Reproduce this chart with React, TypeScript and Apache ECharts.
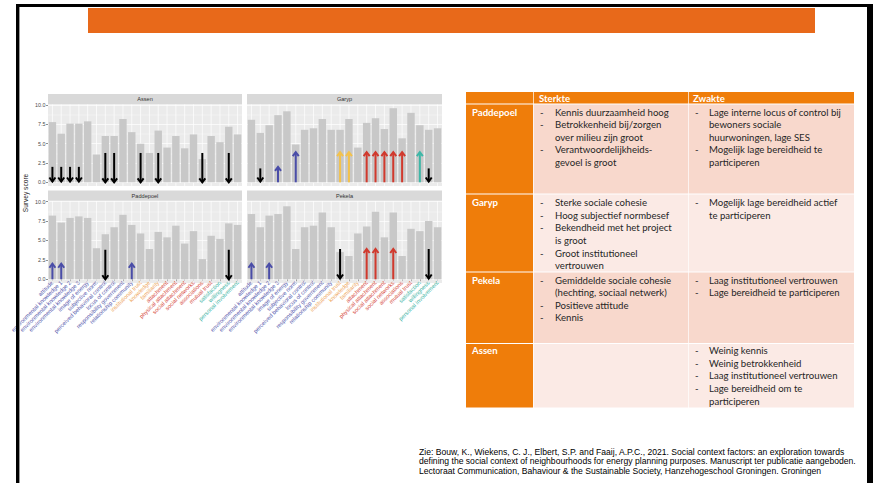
import React, { useEffect, useRef } from "react";
import * as echarts from "echarts";

// ---------- data ----------
const categories = [
  "attitude",
  "environmental knowledge 1",
  "environmental knowledge 2",
  "environmental knowledge 3",
  "image of energy",
  "subjective norm",
  "perceived behavioral control",
  "locus of control",
  "responsibility government",
  "relationship community",
  "institutional trust",
  "knowledge",
  "familiarity",
  "attachment",
  "physical attachment",
  "social attachment",
  "social networks",
  "associations",
  "mutual trust",
  "satisfaction",
  "willingness",
  "personal involvement",
];
const categoryGroup = [0, 0, 0, 0, 0, 0, 0, 0, 0, 0, 1, 1, 1, 2, 2, 2, 2, 2, 2, 3, 3, 3];
const groupColors = ["#5457AC", "#EEA65C", "#D6493C", "#3AB3A3"];

const assenValues = [7.8, 6.3, 7.6, 7.6, 7.9, 3.6, 6.0, 6.0, 8.2, 6.5, 5.0, 3.8, 6.7, 4.5, 6.0, 4.4, 6.2, 3.0, 6.0, 5.2, 7.2, 6.2];
const garypValues = [8.1, 6.4, 7.4, 8.7, 9.2, 4.9, 6.8, 7.0, 8.2, 6.8, 6.8, 8.2, 4.5, 7.7, 8.3, 6.9, 9.6, 5.7, 9.0, 7.4, 6.8, 7.0];
const paddepoelValues = [8.2, 7.3, 7.9, 8.1, 7.9, 4.0, 5.8, 6.7, 8.3, 7.0, 5.9, 3.9, 6.1, 5.4, 6.9, 4.6, 6.2, 2.6, 5.6, 5.2, 7.2, 7.0];
const pekelaValues = [8.4, 6.7, 8.2, 8.4, 9.4, 3.9, 6.7, 6.9, 8.6, 6.7, 3.5, 3.0, 5.9, 6.8, 8.7, 5.4, 8.6, 3.0, 6.5, 6.2, 7.5, 6.7];

const arrowColors = ["#000000", "#4A4DA8", "#F3C24C", "#D1392D", "#3DB7A7"];
// [category index, from, to, colour index]
const assenArrows = [
  [0, 2.0, 0.1, 0], [1, 2.0, 0.1, 0], [2, 2.0, 0.1, 0], [3, 2.0, 0.1, 0],
  [6, 3.8, 0.0, 0], [7, 3.8, 0.0, 0], [10, 3.8, 0.0, 0], [12, 3.8, 0.0, 0],
  [17, 3.8, 0.0, 0], [20, 3.8, 0.0, 0],
];
const garypArrows = [
  [1, 1.8, 0.1, 0], [3, 0, 2.0, 1], [5, 0, 3.9, 1], [10, 0, 3.9, 2], [11, 0, 3.9, 2],
  [13, 0, 3.9, 3], [14, 0, 3.9, 3], [15, 0, 3.9, 3], [16, 0, 3.9, 3], [17, 0, 3.9, 3],
  [19, 0, 3.9, 4], [20, 1.8, 0.1, 0],
];
const paddepoelArrows = [
  [0, 0, 2.0, 1], [1, 0, 2.0, 1], [6, 3.8, 0.0, 0], [9, 0, 2.0, 1], [20, 3.8, 0.0, 0],
];
const pekelaArrows = [
  [0, 0, 2.0, 1], [2, 0, 2.0, 1], [10, 3.9, 0.1, 0], [13, 0, 3.9, 3], [14, 0, 3.9, 3],
  [16, 0, 3.9, 3], [20, 3.9, 0.1, 0],
];

const yTitle = "Survey score";

const tableHeader = ["Sterkte", "Zwakte"];
const tableRowNames = ["Paddepoel", "Garyp", "Pekela", "Assen"];
const sterkte = [
  [["Kennis duurzaamheid hoog"], ["Betrokkenheid bij/zorgen", "over milieu zijn groot"], ["Verantwoordelijkheids-", "gevoel is groot"]],
  [["Sterke sociale cohesie"], ["Hoog subjectief normbesef"], ["Bekendheid met het project", "is groot"], ["Groot institutioneel", "vertrouwen"]],
  [["Gemiddelde sociale cohesie", "(hechting, sociaal netwerk)"], ["Positieve attitude"], ["Kennis"]],
  [],
];
const zwakte = [
  [["Lage interne locus of control bij", "bewoners sociale", "huurwoningen, lage SES"], ["Mogelijk lage bereidheid te", "participeren"]],
  [["Mogelijk lage bereidheid actief", "te participeren"]],
  [["Laag institutioneel vertrouwen"], ["Lage bereidheid te participeren"]],
  [["Weinig kennis"], ["Weinig betrokkenheid"], ["Laag institutioneel vertrouwen"], ["Lage bereidheid om te", "participeren"]],
];
const footnote = [
  "Zie: Bouw, K., Wiekens, C. J., Elbert, S.P. and Faaij, A.P.C., 2021. Social context factors: an exploration towards",
  "defining the social context of neighbourhoods for energy planning purposes. Manuscript ter publicatie aangeboden.",
  "Lectoraat Communication, Bahaviour & the Sustainable Society, Hanzehogeschool Groningen. Groningen",
];

// ---------- layout ----------
const Y_LO = -0.48;
const Y_HI = 10.08;
const panels = [
  { name: "Assen", values: assenValues, arrows: assenArrows, left: 48, width: 194, pTop: 104.5, pBot: 186, sTop: 94, bottom: false, yl: true },
  { name: "Garyp", values: garypValues, arrows: garypArrows, left: 247, width: 195, pTop: 104.5, pBot: 186, sTop: 94, bottom: false, yl: false },
  { name: "Paddepoel", values: paddepoelValues, arrows: paddepoelArrows, left: 48, width: 194, pTop: 201, pBot: 283, sTop: 190.5, bottom: true, yl: true },
  { name: "Pekela", values: pekelaValues, arrows: pekelaArrows, left: 247, width: 195, pTop: 201, pBot: 283, sTop: 190.5, bottom: true, yl: false },
];

const ORANGE = "#EF7D0A";
const PINK = "#F8D8CC";
const LIGHTPINK = "#FBEAE5";
const tableX = [466, 533, 688, 854];
const rowTops = [104.5, 194.5, 272.5, 344];
const rowBots = [193.5, 271.5, 343, 407.5];
const firstLineY = [112, 202.5, 280, 350.5];
const LINE = 12.65;

function buildOption() {
  const grid: any[] = [];
  const xAxis: any[] = [];
  const yAxis: any[] = [];
  const series: any[] = [];
  const graphic: any[] = [];

  // frame and title bar
  graphic.push({ type: "rect", z: 5, shape: { x: 16, y: 4, width: 857, height: 3 }, style: { fill: "#000" } });
  graphic.push({ type: "rect", z: 5, shape: { x: 16, y: 4, width: 3, height: 479 }, style: { fill: "#000" } });
  graphic.push({ type: "rect", z: 5, shape: { x: 19, y: 7, width: 1, height: 476 }, style: { fill: "#9a9a9a" } });
  graphic.push({ type: "rect", z: 5, shape: { x: 867, y: 4, width: 6, height: 479 }, style: { fill: "#000" } });
  graphic.push({ type: "rect", z: 5, shape: { x: 88, y: 8, width: 727, height: 25 }, style: { fill: "#E8691A" } });

  panels.forEach((p, i) => {
    const unit = (p.pBot - p.pTop) / (Y_HI - Y_LO);
    const y0 = p.pBot + Y_LO * unit;
    const top = y0 - 10 * unit;
    grid.push({ left: p.left, top: top, width: p.width, height: 10 * unit, containLabel: false });
    xAxis.push({
      type: "category",
      gridIndex: i,
      data: categories,
      boundaryGap: true,
      axisLine: { show: false },
      axisTick: { show: p.bottom, alignWithLabel: true, length: 2, lineStyle: { color: "#444", width: 0.6 } },
      axisLabel: {
        show: p.bottom,
        interval: 0,
        rotate: 45,
        fontSize: 5.7,
        margin: 2.5,
        fontFamily: "Liberation Sans",
        color: (_v: any, idx: number) => groupColors[categoryGroup[idx]],
      },
      splitLine: { show: false },
    });
    yAxis.push({
      type: "value",
      gridIndex: i,
      min: 0,
      max: 10,
      interval: 2.5,
      axisLine: { show: false },
      axisTick: { show: p.yl, length: 2, lineStyle: { color: "#444", width: 0.6 } },
      axisLabel: {
        show: p.yl,
        fontSize: 5.4,
        margin: 2.5,
        color: "#4D4D4D",
        fontFamily: "Liberation Sans",
        formatter: (v: number) => v.toFixed(1),
      },
      splitLine: { show: true, lineStyle: { color: "#FFFFFF", width: 0.7 } },
      minorTick: { show: true, splitNumber: 2, length: 0, lineStyle: { width: 0 } },
      minorSplitLine: { show: true, lineStyle: { color: "#FFFFFF", width: 0.35 } },
    });
    // vertical grid lines at category centres, over full panel height
    series.push({
      type: "custom",
      xAxisIndex: i,
      yAxisIndex: i,
      z: 1,
      silent: true,
      encode: { x: 0, y: 1 },
      data: categories.map((_c, k) => [k, 5]),
      renderItem: (_params: any, api: any) => {
        const a = api.coord([api.value(0), Y_LO]);
        const b = api.coord([api.value(0), Y_HI]);
        return { type: "line", shape: { x1: a[0], y1: a[1], x2: b[0], y2: b[1] }, style: { stroke: "#FFFFFF", lineWidth: 0.7 } };
      },
    });
    series.push({
      type: "bar",
      name: p.name,
      xAxisIndex: i,
      yAxisIndex: i,
      z: 2,
      silent: true,
      barWidth: "84%",
      itemStyle: { color: "#C8C8C8" },
      data: p.values,
    });
    series.push({
      type: "custom",
      xAxisIndex: i,
      yAxisIndex: i,
      z: 3,
      silent: true,
      encode: { x: 0, y: [1, 2] },
      data: p.arrows,
      renderItem: (_params: any, api: any) => {
        const x = api.value(0);
        const a = api.coord([x, api.value(1)]);
        const b = api.coord([x, api.value(2)]);
        const color = arrowColors[api.value(3)];
        const dir = b[1] < a[1] ? -1 : 1;
        const hl = 4;
        const hw = 3;
        return {
          type: "group",
          children: [
            { type: "line", shape: { x1: a[0], y1: a[1], x2: b[0], y2: b[1] }, style: { stroke: color, lineWidth: 2 } },
            {
              type: "polyline",
              shape: { points: [[b[0] - hw, b[1] - dir * hl], [b[0], b[1]], [b[0] + hw, b[1] - dir * hl]] },
              style: { stroke: color, lineWidth: 2, fill: null },
            },
          ],
        };
      },
    });

    // panel background and strip
    graphic.push({ type: "rect", z: -1, silent: true, shape: { x: p.left, y: p.pTop, width: p.width, height: p.pBot - p.pTop }, style: { fill: "#EBEBEB" } });
    graphic.push({ type: "rect", z: 1, silent: true, shape: { x: p.left, y: p.sTop, width: p.width, height: p.pTop - p.sTop - 0.3 }, style: { fill: "#D9D9D9" } });
    graphic.push({
      type: "text",
      z: 2,
      silent: true,
      style: {
        text: p.name,
        x: p.left + p.width / 2,
        y: (p.sTop + p.pTop) / 2,
        fill: "#333333",
        font: "5.6px 'Liberation Sans'",
        textAlign: "center",
        textVerticalAlign: "middle",
        align: "center",
        verticalAlign: "middle",
      },
    });
  });

  graphic.push({
    type: "text",
    z: 2,
    x: 25,
    y: 193,
    rotation: Math.PI / 2,
    style: {
      text: yTitle,
      x: 0,
      y: 0,
      fill: "#222222",
      font: "6.6px 'Liberation Sans'",
      textAlign: "center",
      textVerticalAlign: "middle",
      align: "center",
      verticalAlign: "middle",
    },
  });

  // ---------- table ----------
  const txt = (text: string, x: number, y: number, font: string, fill: string) => ({
    type: "text",
    z: 2,
    silent: true,
    style: { text, x, y, font, fill, textAlign: "left", textVerticalAlign: "middle", align: "left", verticalAlign: "middle" },
  });
  const hTop = 92;
  const hBot = 103.5;
  for (let c = 0; c < 3; c++) {
    graphic.push({
      type: "rect",
      z: 1,
      silent: true,
      shape: { x: tableX[c] + (c ? 0.7 : 0), y: hTop, width: tableX[c + 1] - tableX[c] - (c ? 0.7 : 0), height: hBot - hTop },
      style: { fill: ORANGE },
    });
  }
  graphic.push(txt(tableHeader[0], tableX[1] + 6, (hTop + hBot) / 2 + 0.3, "bold 9.6px Lato", "#FFFFFF"));
  graphic.push(txt(tableHeader[1], tableX[2] + 5, (hTop + hBot) / 2 + 0.3, "bold 9.6px Lato", "#FFFFFF"));

  tableRowNames.forEach((name, r) => {
    const fill = r % 2 === 0 ? PINK : LIGHTPINK;
    graphic.push({ type: "rect", z: 1, silent: true, shape: { x: tableX[0], y: rowTops[r], width: tableX[1] - tableX[0], height: rowBots[r] - rowTops[r] }, style: { fill: ORANGE } });
    graphic.push({ type: "rect", z: 1, silent: true, shape: { x: tableX[1] + 0.7, y: rowTops[r], width: tableX[2] - tableX[1] - 0.7, height: rowBots[r] - rowTops[r] }, style: { fill } });
    graphic.push({ type: "rect", z: 1, silent: true, shape: { x: tableX[2] + 0.7, y: rowTops[r], width: tableX[3] - tableX[2] - 0.7, height: rowBots[r] - rowTops[r] }, style: { fill } });
    graphic.push(txt(name, tableX[0] + 6, firstLineY[r], "bold 9.6px Lato", "#FFFFFF"));
    const cols = [sterkte[r], zwakte[r]];
    cols.forEach((items, ci) => {
      const dashX = ci === 0 ? 540 : 695;
      const textX = ci === 0 ? 555 : 709;
      let line = 0;
      items.forEach((item: string[]) => {
        graphic.push(txt("-", dashX, firstLineY[r] + line * LINE, "9.6px Lato", "#262626"));
        item.forEach((s) => {
          graphic.push(txt(s, textX, firstLineY[r] + line * LINE, "9.6px Lato", "#262626"));
          line++;
        });
      });
    });
  });

  // ---------- footnote ----------
  footnote.forEach((s, k) => {
    graphic.push(txt(s, 419, 451.5 + k * 9.6, "8.6px 'Liberation Sans'", "#000000"));
  });

  return {
    animation: false,
    backgroundColor: "#FFFFFF",
    textStyle: { fontFamily: "Liberation Sans" },
    grid,
    xAxis,
    yAxis,
    series,
    graphic: { elements: graphic },
  };
}

export default function App() {
  const ref = useRef<HTMLDivElement>(null);
  useEffect(() => {
    document.body.style.margin = "0";
    if (!ref.current) return;
    const chart = echarts.init(ref.current, null, { renderer: "svg" });
    chart.setOption(buildOption() as any);
    return () => chart.dispose();
  }, []);
  return <div ref={ref} style={{ width: 873, height: 483 }} />;
}
